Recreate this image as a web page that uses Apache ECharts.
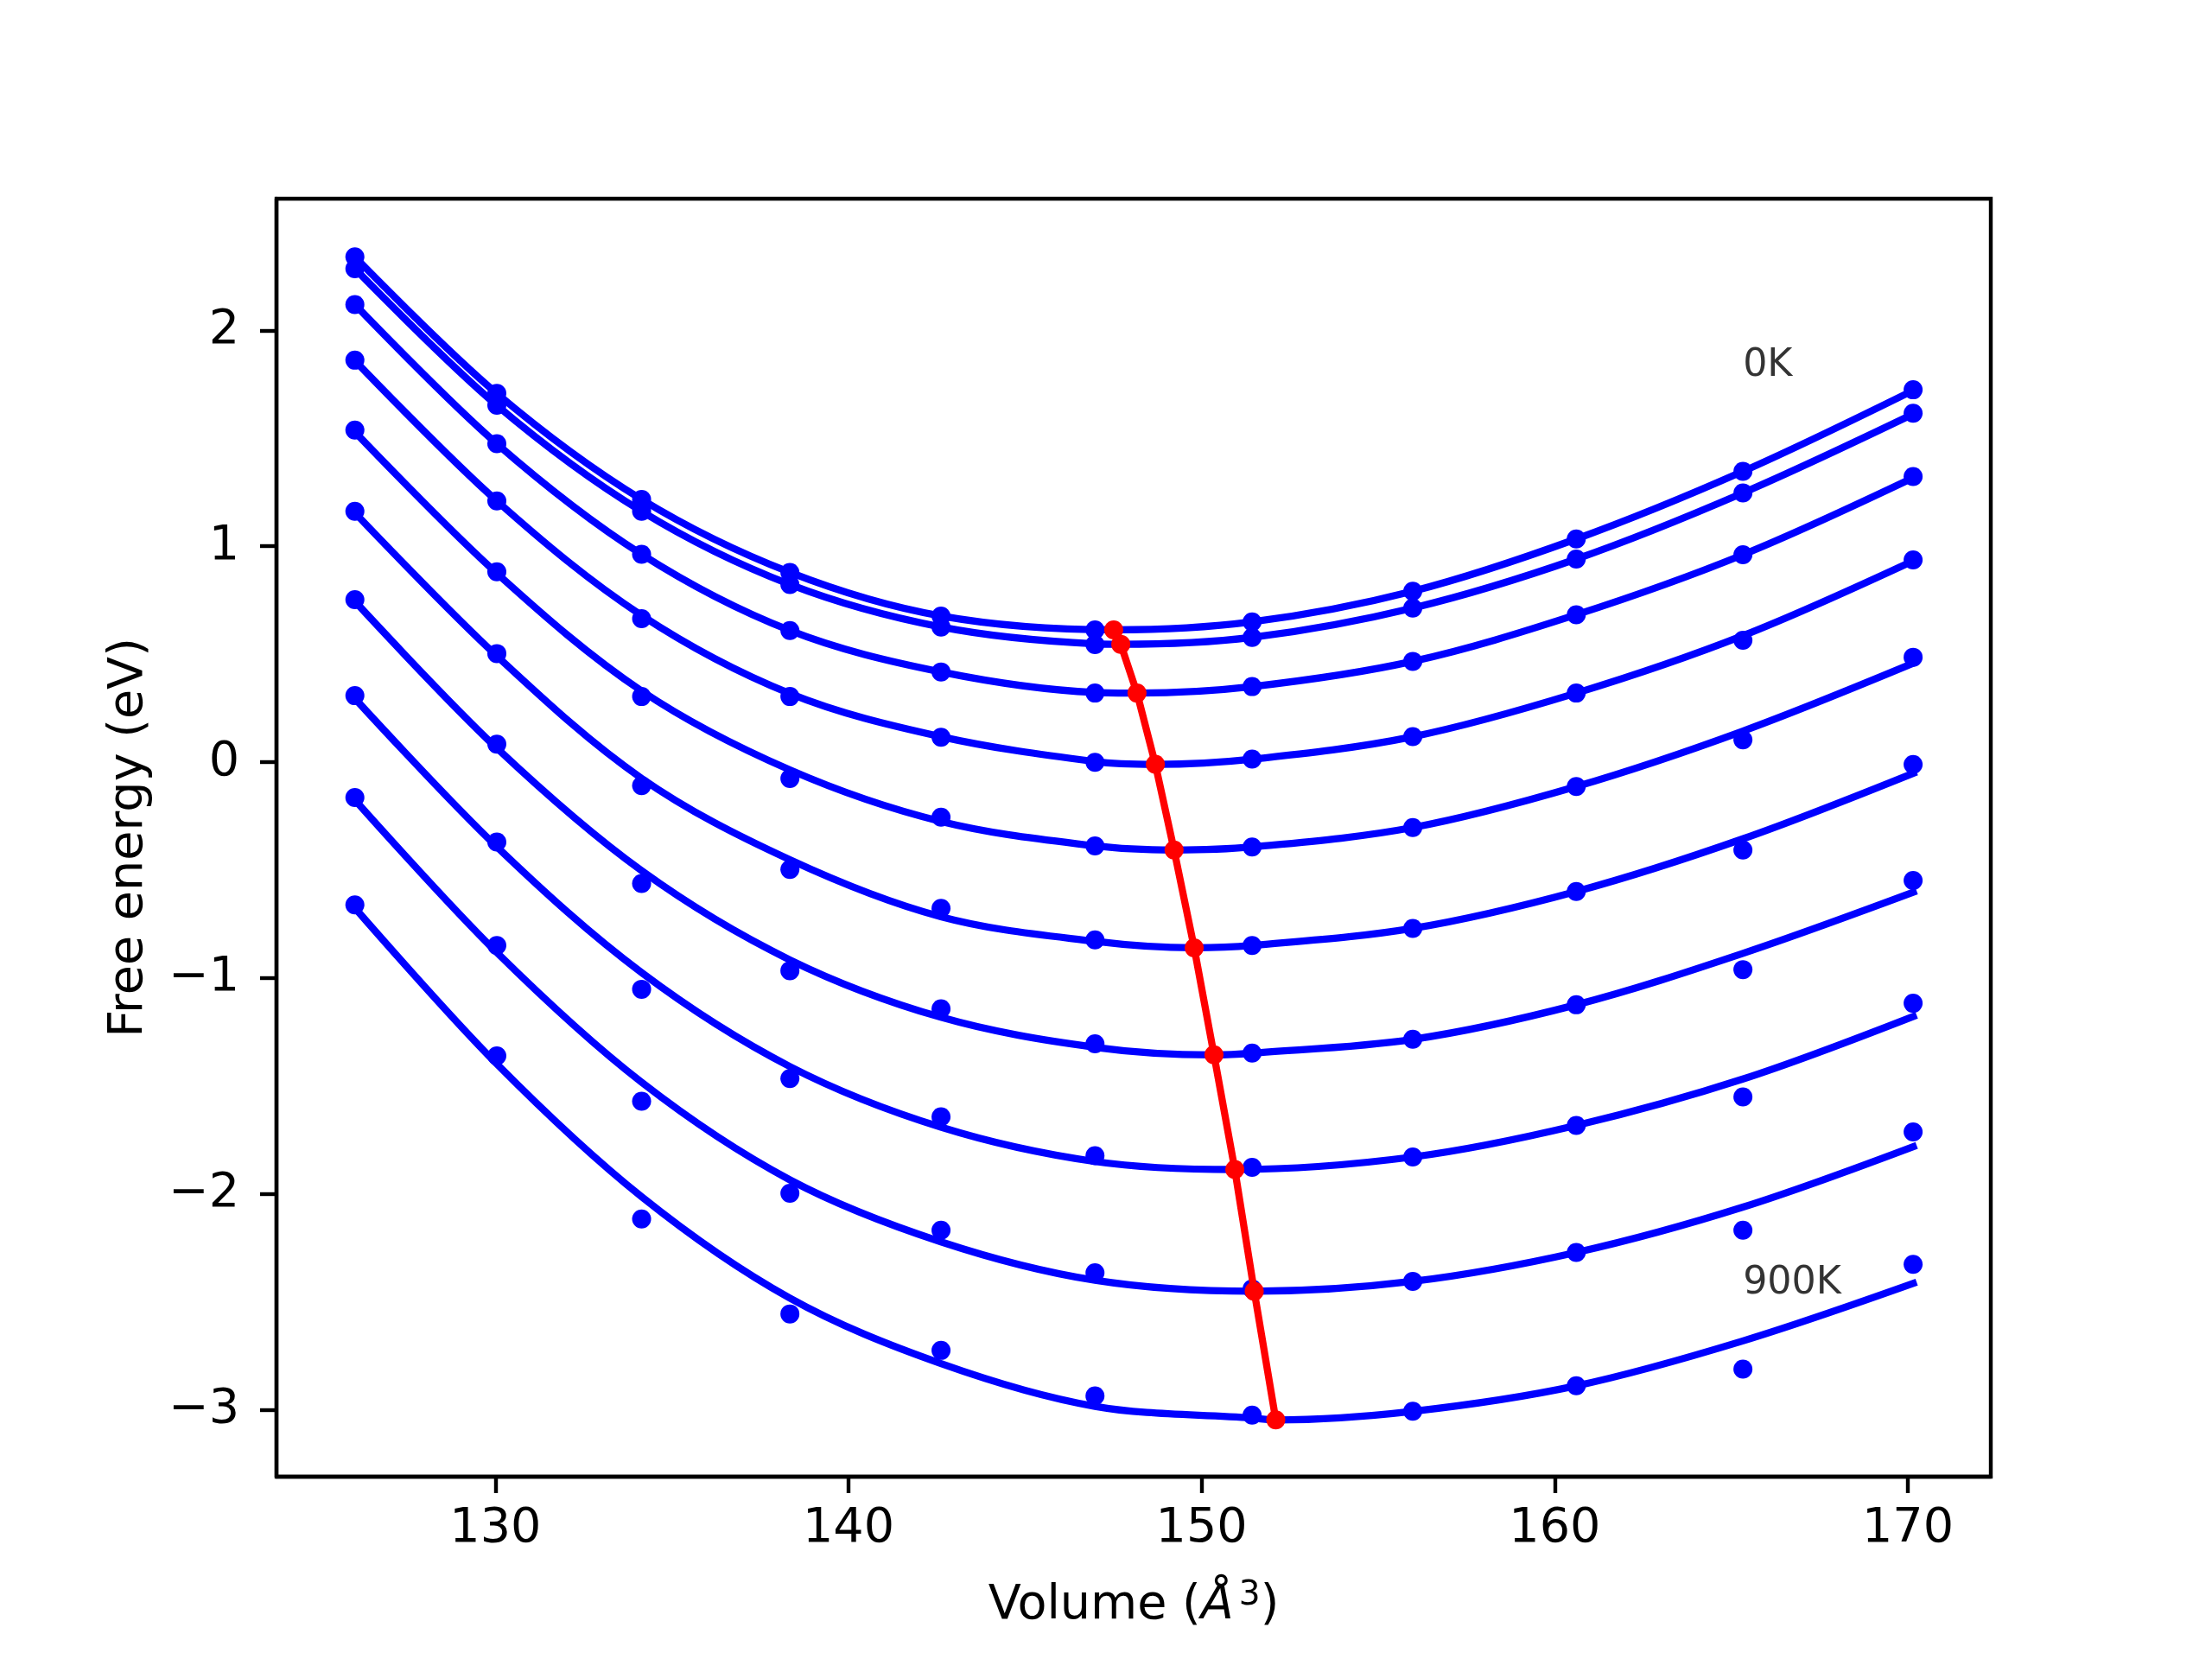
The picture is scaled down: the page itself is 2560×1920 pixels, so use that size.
<!DOCTYPE html>
<html>
<head>
<meta charset="utf-8">
<script src="https://cdn.jsdelivr.net/npm/echarts@6/dist/echarts.min.js"></script>
<style>
  html, body { margin: 0; padding: 0; background: #fff; }
  #chart { width: 2560px; height: 1920px; }
</style>
</head>
<body>
<div id="chart"></div>
<script>
// 体积 (Å^3)
const volumes = [126.02, 130.04, 134.14, 138.34, 142.62, 146.98, 151.43, 155.98, 160.61, 165.33, 170.15];
const temps = ['0K', '100K', '200K', '300K', '400K', '500K', '600K', '700K', '800K', '900K'];

// 计算点
const dots0K   = [2.341, 1.708, 1.217, 0.879, 0.677, 0.613, 0.650, 0.792, 1.034, 1.347, 1.725];
const dots100K = [2.286, 1.653, 1.162, 0.823, 0.626, 0.545, 0.578, 0.714, 0.941, 1.247, 1.616];
const dots200K = [2.120, 1.475, 0.963, 0.610, 0.418, 0.320, 0.350, 0.467, 0.683, 0.961, 1.323];
const dots300K = [1.862, 1.210, 0.665, 0.304, 0.115, -0.001, 0.014, 0.118, 0.320, 0.565, 0.937];
const dots400K = [1.538, 0.882, 0.304, -0.076, -0.255, -0.388, -0.393, -0.303, -0.113, 0.103, 0.486];
const dots500K = [1.162, 0.503, -0.109, -0.497, -0.677, -0.823, -0.849, -0.770, -0.599, -0.407, -0.011];
const dots600K = [0.753, 0.083, -0.562, -0.966, -1.143, -1.305, -1.348, -1.284, -1.124, -0.961, -0.548];
const dots700K = [0.308, -0.370, -1.052, -1.466, -1.643, -1.823, -1.877, -1.829, -1.683, -1.551, -1.117];
const dots800K = [-0.164, -0.849, -1.571, -1.997, -2.168, -2.365, -2.440, -2.405, -2.271, -2.168, -1.713];
const dots900K = [-0.661, -1.361, -2.116, -2.556, -2.725, -2.936, -3.025, -3.007, -2.889, -2.812, -2.326];

// 拟合曲线 (读取的曲线位置)
const fitVolumes = [126.02, 130.04, 134.14, 138.34, 142.62, 146.98, 151.43, 155.98, 160.61, 165.33, 170.25];
const fit0K   = [2.340, 1.708, 1.217, 0.879, 0.677, 0.616, 0.650, 0.792, 1.034, 1.347, 1.730];
const fit100K = [2.286, 1.653, 1.162, 0.823, 0.626, 0.548, 0.578, 0.714, 0.941, 1.247, 1.620];
const fit200K = [2.120, 1.475, 0.963, 0.610, 0.418, 0.323, 0.350, 0.467, 0.683, 0.961, 1.325];
const fit300K = [1.860, 1.210, 0.680, 0.318, 0.118, 0.003, 0.014, 0.118, 0.320, 0.586, 0.940];
const fit400K = [1.530, 0.875, 0.330, -0.036, -0.275, -0.388, -0.393, -0.303, -0.113, 0.144, 0.465];
const fit500K = [1.155, 0.492, -0.075, -0.452, -0.716, -0.830, -0.849, -0.770, -0.599, -0.355, -0.045];
const fit600K = [0.745, 0.065, -0.503, -0.916, -1.182, -1.321, -1.348, -1.284, -1.124, -0.886, -0.597];
const fit700K = [0.295, -0.392, -0.975, -1.410, -1.691, -1.850, -1.878, -1.829, -1.683, -1.468, -1.172];
const fit800K = [-0.175, -0.882, -1.483, -1.935, -2.222, -2.400, -2.448, -2.405, -2.271, -2.061, -1.775];
const fit900K = [-0.675, -1.398, -2.013, -2.483, -2.786, -2.984, -3.038, -3.007, -2.889, -2.681, -2.409];

// 平衡体积 (红线)
const minVolumes = [147.51, 147.71, 148.17, 148.69, 149.22, 149.79, 150.35, 150.94, 151.49, 152.10];
const minEnergies = [0.613, 0.546, 0.320, -0.010, -0.407, -0.860, -1.356, -1.887, -2.451, -3.047];

const xTicks = [130, 140, 150, 160, 170];
const yTicks = [-3, -2, -1, 0, 1, 2];

const dotSets = [dots0K, dots100K, dots200K, dots300K, dots400K, dots500K, dots600K, dots700K, dots800K, dots900K];
const fitSets = [fit0K, fit100K, fit200K, fit300K, fit400K, fit500K, fit600K, fit700K, fit800K, fit900K];

const FONT = 'DejaVu Sans';
const BLUE = '#0000ff';
const RED = '#ff0000';
const minus = v => String(v).replace('-', '\u2212');

const chart = echarts.init(document.getElementById('chart'));

const series = [];
temps.forEach((t, i) => {
  // 计算点
  series.push({
    type: 'scatter',
    name: t + ' pts',
    data: volumes.map((v, j) => [v, dotSets[i][j]]),
    symbol: 'circle',
    symbolSize: 22,
    itemStyle: { color: BLUE, opacity: 1 },
    z: 2
  });
  // 拟合曲线, 把最低点插进去 (太近的采样点去掉)
  const pts = [];
  fitVolumes.forEach((v, j) => {
    if (Math.abs(v - minVolumes[i]) > 0.55) pts.push([v, fitSets[i][j]]);
  });
  pts.push([minVolumes[i], minEnergies[i]]);
  pts.sort((a, b) => a[0] - b[0]);
  series.push({
    type: 'line',
    name: t,
    data: pts,
    smooth: 0.34,
    showSymbol: false,
    lineStyle: { color: BLUE, width: 8.3 },
    z: 2
  });
});

// 红线
series.push({
  type: 'line',
  name: 'min',
  data: minVolumes.map((v, i) => [v, minEnergies[i]]),
  symbol: 'circle',
  symbolSize: 22,
  showSymbol: true,
  itemStyle: { color: RED, opacity: 1 },
  lineStyle: { color: RED, width: 8.3 },
  z: 5
});

// 温度标注
series.push({
  type: 'scatter',
  name: 'labels',
  symbolSize: 0,
  data: [
    { name: '0K', value: [165.33, 1.78] },
    { name: '900K', value: [165.33, -2.47] }
  ],
  label: {
    show: true,
    position: [0, 0],
    align: 'left',
    verticalAlign: 'bottom',
    offset: [0, 8],
    formatter: p => p.name,
    fontFamily: FONT,
    fontSize: 44.4,
    color: '#000'
  },
  z: 6
});

const axisCommon = {
  type: 'value',
  splitLine: { show: false },
  axisLine: { show: true, onZero: false, lineStyle: { color: '#000', width: 4.4 } },
  axisTick: { show: true, length: 19, lineStyle: { color: '#000', width: 4.4 } }
};

chart.setOption({
  backgroundColor: '#fff',
  animation: false,
  grid: {
    left: 320, right: 256, top: 230, bottom: 211,
    show: true, borderColor: '#000', borderWidth: 4.4, backgroundColor: 'transparent'
  },
  xAxis: Object.assign({}, axisCommon, {
    min: 123.8,
    max: 172.35,
    axisTick: Object.assign({}, axisCommon.axisTick, { customValues: xTicks }),
    axisLabel: {
      customValues: xTicks, margin: 33,
      fontFamily: FONT, fontSize: 55.6, color: '#000', formatter: minus
    },
    name: '{n|Volume (}{i|Å}{s|3}{n|)}',
    nameLocation: 'middle',
    nameGap: 118,
    nameTextStyle: {
      fontFamily: FONT, fontSize: 55.6, color: '#000',
      rich: {
        n: { fontFamily: FONT, fontSize: 55.6, lineHeight: 64, color: '#000' },
        i: { fontFamily: FONT, fontSize: 55.6, lineHeight: 64, color: '#000', fontStyle: 'italic' },
        s: { fontFamily: FONT, fontSize: 39, lineHeight: 36, color: '#000', verticalAlign: 'top', padding: [0, 0, 0, 6] }
      }
    }
  }),
  yAxis: Object.assign({}, axisCommon, {
    min: -3.31,
    max: 2.61,
    axisTick: Object.assign({}, axisCommon.axisTick, { customValues: yTicks }),
    axisLabel: {
      customValues: yTicks, margin: 43,
      fontFamily: FONT, fontSize: 55.6, color: '#000', formatter: minus
    },
    name: 'Free energy (eV)',
    nameLocation: 'middle',
    nameGap: 142,
    nameTextStyle: { fontFamily: FONT, fontSize: 55.6, color: '#000' }
  }),
  series: series
});
</script>
</body>
</html>
